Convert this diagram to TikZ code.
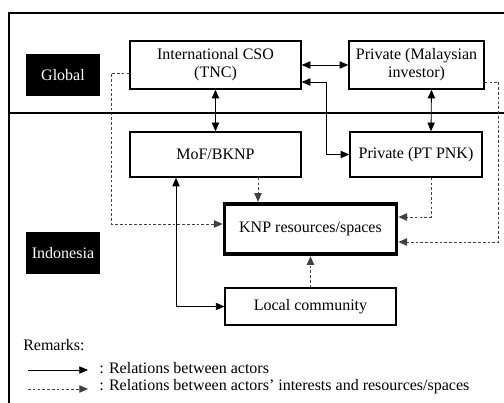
\documentclass[tikz,border=0pt]{standalone}
\usepackage{fontspec}
\setmainfont{Liberation Serif}
\usetikzlibrary{arrows.meta,calc}

\begin{document}
\begin{tikzpicture}[x=0.75pt,y=0.75pt,yscale=-1,xscale=1,
  every node/.style={font=\fontsize{12}{13.5}\selectfont},
  actor/.style={draw,line width=1.1pt,align=center,inner sep=0.75pt},
  levelbox/.style={fill=black,text=white,minimum width=55.5pt,minimum height=31.5pt,inner sep=0.75pt},
  rel/.style={line width=0.6pt,{Triangle[length=6.5pt,width=5.5pt]}-{Triangle[length=6.5pt,width=5.5pt]}},
  relone/.style={line width=0.6pt,-{Triangle[length=6.5pt,width=5.5pt]}},
  interest/.style={black!75,line width=0.7pt,dash pattern={on 2pt off 1.6pt},-{Triangle[length=6.5pt,width=5.5pt]}}]
\useasboundingbox (0,0) rectangle (504,403);

%Frame
\draw [line width=1.1pt]  (9,403) -- (9,13) -- (504,13) ;
\draw [line width=1.1pt]  (9,113) -- (504,113) ;

% Level labels
\node [levelbox] (global) at (63,75) {Global};
\node [levelbox] (indonesia) at (63,253) {Indonesia};

% Actor nodes
\node [actor,minimum width=128.25pt,minimum height=36pt] (tnc) at (215.5,65) {International CSO\\(TNC)};
\node [actor,minimum width=101.25pt,minimum height=36pt] (malay) at (416.5,65) {Private (Malaysian\\investor)};
\node [actor,minimum width=128.25pt,minimum height=33.75pt] (mof) at (215.5,154.5) {MoF/BKNP};
\node [actor,minimum width=99pt,minimum height=33.75pt] (pnk) at (416,154.5) {Private (PT PNK)};
\node [actor,line width=2.8pt,minimum width=129pt,minimum height=38pt] (knp) at (310.5,229) {KNP resources/spaces};
\node [actor,line width=0.8pt,minimum width=128.25pt,minimum height=27.75pt] (local) at (310.5,306.5) {Local community};

%Relations between actors
\draw [rel]  (tnc.east) -- (tnc.east -| malay.west) ;
\draw [rel]  (tnc.south) -- (mof.north) ;
\draw [rel]  ($(malay.south)+(15,0)$) -- ($(pnk.north)+(15,0)$) ;
\draw [rel]  ($(tnc.east)+(0,17)$) -| ($(pnk.west)+(-23,0)$) -- (pnk.west) ;
\draw [rel]  ($(mof.south)+(-39.5,0)$) |- (local.west) ;

%Relations between interests and resources/spaces
\draw [interest]  ($(tnc.west)+(0,8)$) -- ++(-18,0) |- ($(knp.west)+(0,-5)$) ;
\draw [interest]  ($(malay.east)+(0,17)$) -- ++(14,0) |- ($(knp.east)+(0,13)$) ;
\draw [interest]  ($(pnk.south)+(15,0)$) |- ($(knp.east)+(0,-12)$) ;
\draw [interest]  ($(mof.south)+(42.5,0)$) coordinate (m1) -- (m1 |- knp.north) ;
\draw [interest]  (local.north) -- (knp.south) ;

% Text Node
\node [anchor=west,inner sep=0.75pt] (remarks) at (22,345) {Remarks:};
% Legend
\coordinate (la) at (28,370);
\coordinate (lb) at (88,370);
\coordinate (lc) at (28,389);
\coordinate (ld) at (88,389);
\draw [relone]  (la) -- (lb) ;
\draw [interest]  (lc) -- (ld) ;
\node [anchor=west,inner sep=0.75pt] (keyrel) at (98,368) {: Relations between actors};
\node [anchor=west,inner sep=0.75pt] (keyint) at (98,387) {: Relations between actors’ interests and resources/spaces};

\end{tikzpicture}
\end{document}
